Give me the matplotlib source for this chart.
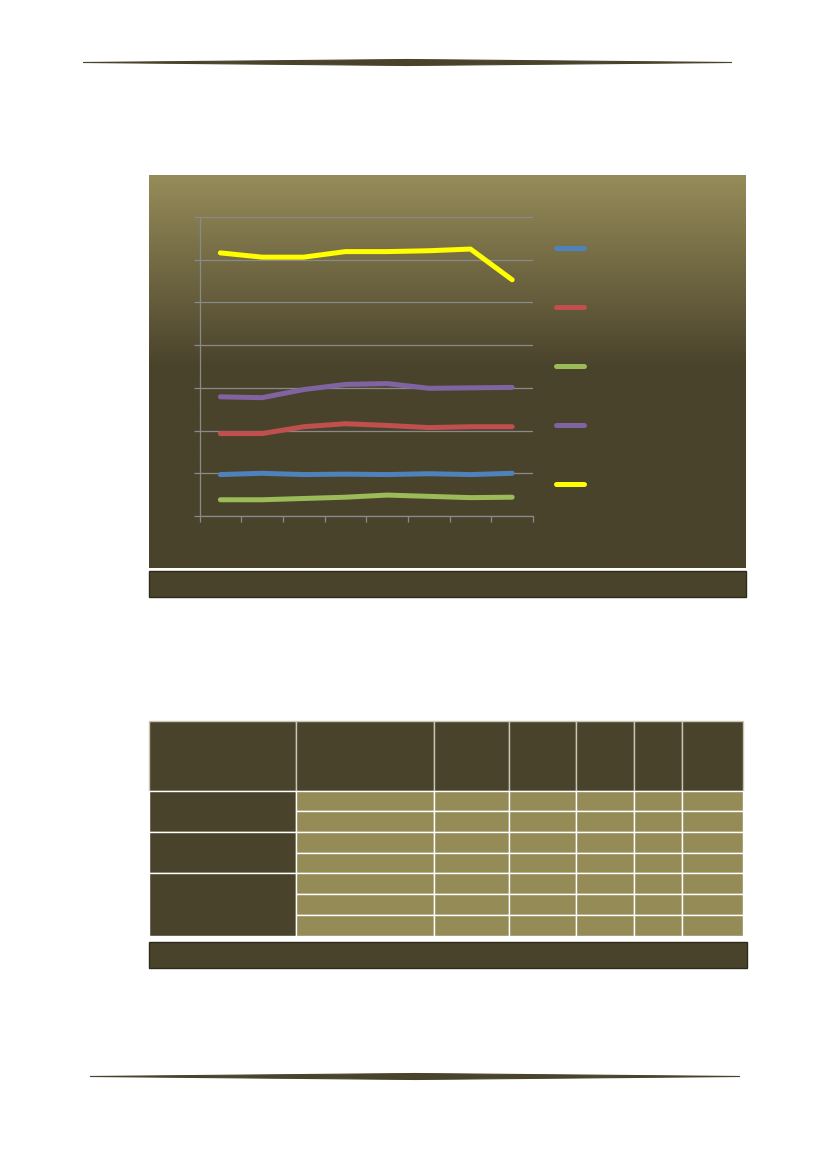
import numpy as np
import matplotlib
matplotlib.use("Agg")
import matplotlib.pyplot as plt
from matplotlib.patches import Rectangle, Polygon
from matplotlib.colors import to_rgb

# ── data (in gridline units) ─────────────────────────────────────────────────
n_points = 8
series_names = ["blue", "red", "green", "purple", "yellow"]
blue_vals   = [0.97, 1.00, 0.97, 0.98, 0.97, 0.99, 0.97, 1.00]
red_vals    = [1.93, 1.93, 2.09, 2.16, 2.12, 2.07, 2.09, 2.09]
green_vals  = [0.38, 0.38, 0.41, 0.44, 0.49, 0.46, 0.43, 0.44]
purple_vals = [2.79, 2.77, 2.96, 3.08, 3.10, 2.99, 3.00, 3.01]
yellow_vals = [6.16, 6.06, 6.06, 6.19, 6.19, 6.21, 6.25, 5.53]
y_max = 7

# table: 7 body rows in 3 groups, 7 columns, no text
group_sizes = [2, 2, 3]

# ── styling ──────────────────────────────────────────────────────────────────
W, H = 827, 1169
DARK = "#4a432c"
LIGHT = "#958b57"
GRID = "#8a8a8a"
line_colors = {
    "blue": "#4f81bd",
    "red": "#c0504d",
    "green": "#9bbb59",
    "purple": "#8064a2",
    "yellow": "#ffff00",
}
values = {
    "blue": blue_vals,
    "red": red_vals,
    "green": green_vals,
    "purple": purple_vals,
    "yellow": yellow_vals,
}


def fig_rect(x0, y0, x1, y1):
    """pixel box (top-left origin) -> figure fraction rect"""
    return [x0 / W, 1 - y1 / H, (x1 - x0) / W, (y1 - y0) / H]


fig = plt.figure(figsize=(W / 100, H / 100), dpi=100)
fig.patch.set_facecolor("white")

# page-level canvas in pixel units
bg = fig.add_axes([0, 0, 1, 1])
bg.set_xlim(0, W)
bg.set_ylim(H, 0)
bg.axis("off")


def tapered_rule(ax, x0, x1, y, thick):
    xm = (x0 + x1) / 2
    pts = [(x0, y), (xm, y - thick / 2), (x1, y), (xm, y + thick / 2)]
    ax.add_patch(Polygon(pts, closed=True, color=DARK, lw=0.8))


tapered_rule(bg, 83, 732, 62.5, 6)
tapered_rule(bg, 90, 740, 1076.5, 6)

# ── chart box with vertical gradient ─────────────────────────────────────────
box = (149, 175, 746, 568)
top_c = np.array(to_rgb("#968c59"))
dark_c = np.array(to_rgb(DARK))
rows = np.linspace(0, 1, 400)
split = (367 - box[1]) / (box[3] - box[1])
t = np.clip(rows / split, 0, 1)[:, None]
grad = top_c * (1 - t) + dark_c * t
bg.imshow(grad[:, None, :], extent=(box[0], box[2], box[3], box[1]),
          aspect="auto", interpolation="bilinear", zorder=1)

# caption bar under the chart
bg.add_patch(Rectangle((149, 570.5), 597, 26.5, facecolor=DARK,
                       edgecolor="#2e2a1b", lw=1, zorder=2))

# ── line plot ────────────────────────────────────────────────────────────────
ax = fig.add_axes(fig_rect(199.5, 217, 533, 516))
ax.set_facecolor("none")
x = np.arange(n_points) + 0.5
for name in series_names:
    ax.plot(x, values[name], color=line_colors[name], lw=3.6,
            solid_capstyle="round", solid_joinstyle="round", zorder=3)
ax.set_xlim(0, n_points)
ax.set_ylim(0, y_max)
ax.set_yticks(np.arange(y_max + 1))
ax.set_xticks(np.arange(n_points + 1))
ax.grid(axis="y", color=GRID, lw=0.9)
ax.tick_params(colors=GRID, length=4, width=0.9,
               labelleft=False, labelbottom=False)
for side in ["top", "right"]:
    ax.spines[side].set_visible(False)
for side in ["left", "bottom"]:
    ax.spines[side].set_color(GRID)
    ax.spines[side].set_linewidth(0.9)

# legend swatches (labels are blank in the reference)
lg = fig.add_axes(fig_rect(550, 218.5, 600, 513.5))
lg.set_xlim(0, 1)
lg.set_ylim(len(series_names) - 0.5, -0.5)
lg.axis("off")
for i, name in enumerate(series_names):
    lg.plot([0.12, 0.68], [i, i], color=line_colors[name],
            lw=3.6, solid_capstyle="round")

# ── table ────────────────────────────────────────────────────────────────────
col_edges = [149, 295.5, 433.5, 509, 576, 634, 681.5, 742.5]
header_top, header_bot = 721, 790.5
body_bot = 935.5
n_rows = sum(group_sizes)
row_edges = np.linspace(header_bot, body_bot, n_rows + 1)

for c0, c1 in zip(col_edges[:-1], col_edges[1:]):
    bg.add_patch(Rectangle((c0, header_top), c1 - c0, header_bot - header_top,
                           facecolor=DARK, edgecolor="#c9c5b4", lw=1, zorder=2))

r = 0
for g in group_sizes:
    y0, y1 = row_edges[r], row_edges[r + g]
    bg.add_patch(Rectangle((col_edges[0], y0), col_edges[1] - col_edges[0],
                           y1 - y0, facecolor=DARK, edgecolor="white",
                           lw=1, zorder=2))
    for k in range(g):
        ya, yb = row_edges[r + k], row_edges[r + k + 1]
        for c0, c1 in zip(col_edges[1:-1], col_edges[2:]):
            bg.add_patch(Rectangle((c0, ya), c1 - c0, yb - ya,
                                   facecolor=LIGHT, edgecolor="white",
                                   lw=1, zorder=2))
    r += g

# note bar under the table
bg.add_patch(Rectangle((149, 941.5), 598, 26.5, facecolor=DARK,
                       edgecolor="#2e2a1b", lw=1, zorder=2))

fig.savefig("out.png", dpi=100, facecolor="white")
plt.close(fig)
